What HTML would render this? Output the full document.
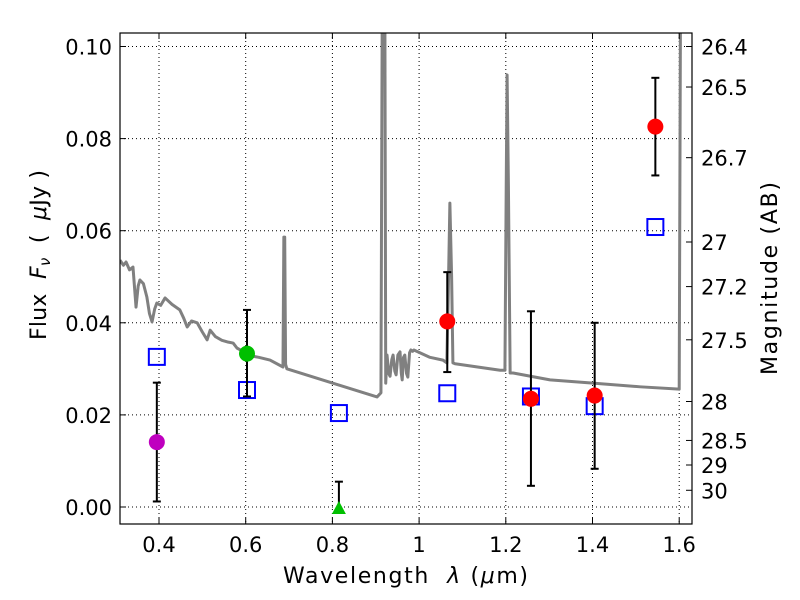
<!DOCTYPE html>
<html><head><meta charset="utf-8"><style>
body{margin:0;background:#fff}
svg{font-family:"DejaVu Sans","Liberation Sans",sans-serif}
</style></head><body>
<svg id="chart" width="800" height="600" viewBox="0 0 800 600" xmlns="http://www.w3.org/2000/svg" style="position:absolute;left:0;top:0">
<rect width="800" height="600" fill="#fff"/>
<g id="grid"></g><g id="spec"></g><g id="marks"></g><g id="axes"></g>
</svg>
<script>
const specLam=[0.310,0.318,0.324,0.332,0.340,0.347,0.352,0.356,0.364,0.372,0.378,0.384,0.390,0.395,0.404,0.414,0.430,0.448,0.457,0.465,0.475,0.488,0.500,0.511,0.518,0.530,0.545,0.560,0.571,0.580,0.590,0.603,0.630,0.656,0.686,0.688,0.690,0.692,0.695,0.903,0.912,0.915,0.917,0.921,0.923,0.926,0.930,0.933,0.937,0.940,0.944,0.947,0.951,0.956,0.959,0.961,0.964,0.967,0.971,0.974,0.978,0.981,0.985,0.988,1.025,1.055,1.064,1.068,1.071,1.075,1.078,1.083,1.187,1.198,1.201,1.203,1.206,1.210,1.217,1.302,1.401,1.510,1.600,1.603,1.606];
const specFlux=[0.0536,0.0525,0.0532,0.0515,0.0521,0.0434,0.0480,0.0493,0.0485,0.0456,0.0420,0.0402,0.0430,0.0443,0.0438,0.0454,0.0440,0.0428,0.0410,0.0391,0.0404,0.0400,0.0380,0.0363,0.0384,0.0370,0.0362,0.0358,0.0356,0.0345,0.0340,0.0330,0.0325,0.0319,0.0304,0.0586,0.0586,0.0310,0.0300,0.0239,0.0248,0.11,0.11,0.11,0.0269,0.0330,0.0290,0.0284,0.0320,0.0330,0.0295,0.0287,0.0330,0.0337,0.0290,0.0276,0.0325,0.0330,0.0290,0.0282,0.0335,0.0341,0.0338,0.0341,0.0325,0.0319,0.0313,0.0500,0.0660,0.0500,0.0313,0.0311,0.0297,0.0297,0.0700,0.0938,0.0700,0.0291,0.0291,0.0276,0.0269,0.0261,0.0256,0.11,0.11];
const ptLam=[0.395,0.603,1.065,1.258,1.405,1.545];
const ptFlux=[0.0141,0.0333,0.0403,0.0235,0.0242,0.0826];
const ptLo=[0.0012,0.0240,0.0293,0.0046,0.0083,0.0720];
const ptHi=[0.0270,0.0428,0.0510,0.0425,0.0400,0.0932];
const ptColor=['#bf00bf','#00bf00','red','red','red','red'];
const triLam=[0.815];const triFlux=[0.0];const triHi=[0.0055];
const sqLam=[0.395,0.603,0.815,1.065,1.258,1.405,1.545];
const sqFlux=[0.0326,0.0254,0.0204,0.0247,0.0240,0.0219,0.0608];
const xTicks=[0.4,0.6,0.8,1.0,1.2,1.4,1.6];
const xTickLabels=['0.4','0.6','0.8','1','1.2','1.4','1.6'];
const yTicks=[0,0.02,0.04,0.06,0.08,0.10];
const yTickLabels=['0.00','0.02','0.04','0.06','0.08','0.10'];
const magTicks=[26.4,26.5,26.7,27,27.2,27.5,28,28.5,29,30];
const magLabels=['26.4','26.5','26.7','27','27.2','27.5','28','28.5','29','30'];

const L=120,R=692,T=33,B=524;
const X=v=>159+(v-0.4)*433.5;
const Y=v=>507-v*4605;
const NS='http://www.w3.org/2000/svg';
function mk(tag,parent,attrs){const e=document.createElementNS(NS,tag);for(const k in attrs)e.setAttribute(k,attrs[k]);document.getElementById(parent).appendChild(e);return e;}
xTicks.forEach(t=>{const e=mk('line','grid',{x1:X(t),x2:X(t),y1:T,y2:B,stroke:'#000','stroke-width':1,'stroke-dasharray':'1,3'});

});
yTicks.forEach(t=>{const e=mk('line','grid',{x1:L,x2:R,y1:Y(t),y2:Y(t),stroke:'#000','stroke-width':1,'stroke-dasharray':'1,3'});

});
const cp=mk('clipPath','spec',{id:'clip'});const cr=document.createElementNS(NS,'rect');cr.setAttribute('x',L);cr.setAttribute('y',T);cr.setAttribute('width',R-L);cr.setAttribute('height',B-T);cp.appendChild(cr);
const sp=mk('polyline','spec',{points:specLam.map((l,i)=>X(l)+','+Y(specFlux[i])).join(' '),fill:'none',stroke:'#808080','stroke-width':3,'clip-path':'url(#clip)','stroke-linejoin':'round'});


sqLam.forEach((l,i)=>{const e=mk('rect','marks',{x:X(l)-8,y:Y(sqFlux[i])-8,width:16,height:16,fill:'none',stroke:'#0000ff','stroke-width':2});

});
ptLam.forEach((l,i)=>{const x=X(l);
const g=mk('g','marks',{});


[[x,Y(ptLo[i]),x,Y(ptHi[i])],[x-4,Y(ptLo[i]),x+4,Y(ptLo[i])],[x-4,Y(ptHi[i]),x+4,Y(ptHi[i])]].forEach(c=>{const ln=document.createElementNS(NS,'line');ln.setAttribute('x1',c[0]);ln.setAttribute('y1',c[1]);ln.setAttribute('x2',c[2]);ln.setAttribute('y2',c[3]);ln.setAttribute('stroke','#000');ln.setAttribute('stroke-width',2);g.appendChild(ln);});
const c=mk('circle','marks',{cx:x,cy:Y(ptFlux[i]),r:8,fill:ptColor[i]});

});
triLam.forEach((l,i)=>{const x=X(l),y=Y(triFlux[i]);
const g=mk('g','marks',{});


[[x,y,x,Y(triHi[i])],[x-4,Y(triHi[i]),x+4,Y(triHi[i])]].forEach(c=>{const ln=document.createElementNS(NS,'line');ln.setAttribute('x1',c[0]);ln.setAttribute('y1',c[1]);ln.setAttribute('x2',c[2]);ln.setAttribute('y2',c[3]);ln.setAttribute('stroke','#000');ln.setAttribute('stroke-width',2);g.appendChild(ln);});
const t=mk('polygon','marks',{points:`${x-7},${y+7} ${x+7},${y+7} ${x},${y-6}`,fill:'#00bf00'});

});
const fr=mk('rect','axes',{x:L,y:T,width:R-L,height:B-T,fill:'none',stroke:'#000','stroke-width':1.2});


xTicks.forEach((t,i)=>{mk('line','axes',{x1:X(t),x2:X(t),y1:B,y2:B-6,stroke:'#000'});mk('line','axes',{x1:X(t),x2:X(t),y1:T,y2:T+6,stroke:'#000'});
const e=mk('text','axes',{x:X(t),y:B+28,'text-anchor':'middle','font-size':21});e.textContent=xTickLabels[i];

});
yTicks.forEach((t,i)=>{mk('line','axes',{x1:L,x2:L+6,y1:Y(t),y2:Y(t),stroke:'#000'});
const e=mk('text','axes',{x:L-8,y:Y(t)+8,'text-anchor':'end','font-size':21});e.textContent=yTickLabels[i];

});
magTicks.forEach((m,i)=>{const y=Y(Math.pow(10,-0.4*(m-23.9)));mk('line','axes',{x1:R,x2:R-6,y1:y,y2:y,stroke:'#000'});
const e=mk('text','axes',{x:R+9,y:y+8,'font-size':21});e.textContent=magLabels[i];

});
</script>
<svg style="position:absolute;left:0;top:0" width="800" height="600">
<text x="283" y="583" font-size="22" textLength="245" font-family="DejaVu Sans,sans-serif" xml:space="preserve">Wavelength  <tspan font-style="italic">λ</tspan> (<tspan font-style="italic">μ</tspan>m)</text>
<text transform="translate(46,340) rotate(-90)" font-size="22" textLength="170" font-family="DejaVu Sans,sans-serif" xml:space="preserve">Flux  <tspan font-style="italic">F</tspan><tspan font-style="italic" font-size="15" dy="4">ν</tspan><tspan dy="-4">  (  </tspan><tspan font-style="italic">μ</tspan>Jy )</text>
<text transform="translate(777,375) rotate(-90)" font-size="22" textLength="193" font-family="DejaVu Sans,sans-serif">Magnitude (AB)</text>
</svg>
</body></html>
